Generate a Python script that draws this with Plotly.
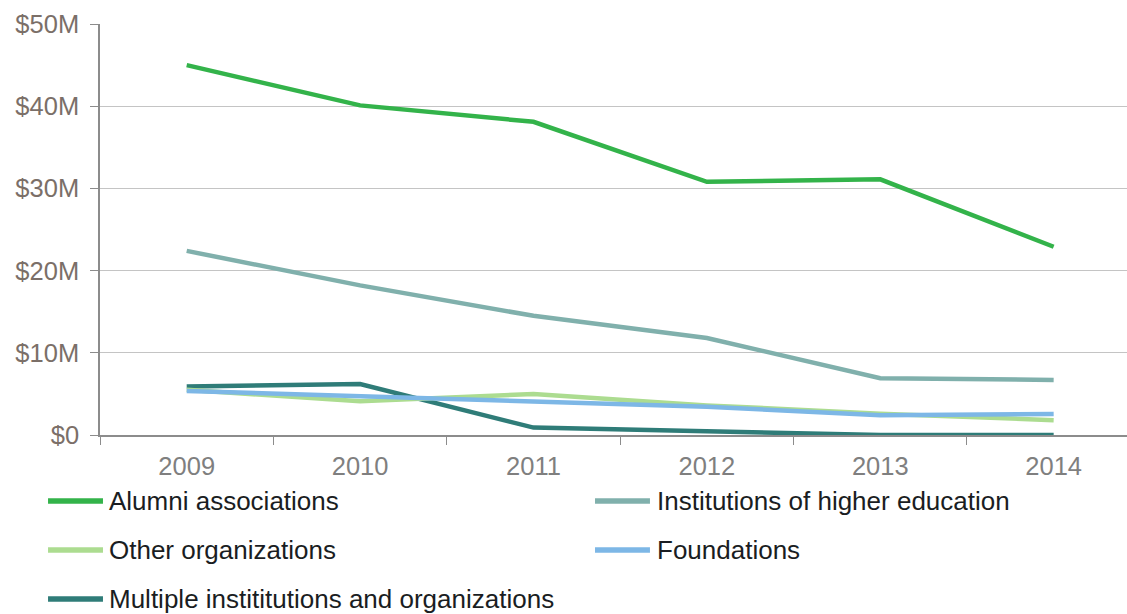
import plotly.graph_objects as go

years = ["2009", "2010", "2011", "2012", "2013", "2014"]
series_names = [
    "Alumni associations",
    "Institutions of higher education",
    "Other organizations",
    "Foundations",
    "Multiple instititutions and organizations",
]
alumni = [45.0, 40.1, 38.1, 30.8, 31.1, 22.9]
institutions = [22.4, 18.2, 14.5, 11.8, 6.9, 6.7]
other_orgs = [5.5, 4.1, 5.0, 3.6, 2.6, 1.8]
foundations = [5.35, 4.7, 4.1, 3.45, 2.4, 2.55]
multiple = [5.9, 6.2, 0.9, 0.5, 0.0, 0.0]
y_tickvals = [0, 10, 20, 30, 40, 50]
y_ticktext = ["$0", "$10M", "$20M", "$30M", "$40M", "$50M"]

colors = ["#33b34a", "#80b0ac", "#acdc90", "#7db7e6", "#2f7c78"]
values = [alumni, institutions, other_orgs, foundations, multiple]

fig = go.Figure()
draw_order = [4, 2, 3, 1, 0]
for i in draw_order:
    fig.add_trace(go.Scatter(
        x=years, y=values[i], name=series_names[i], mode="lines",
        line=dict(color=colors[i], width=4.5),
        cliponaxis=False, showlegend=False,
    ))

# manual legend: 2 columns x 3 rows
row_y = [-0.1606, -0.2798, -0.399]
col_x = [(-0.0506, 0.0029, 0.0068), (0.482, 0.5355, 0.5404)]
for idx, name in enumerate(series_names):
    r, c = divmod(idx, 2)
    x0, x1, xt = col_x[c]
    fig.add_shape(type="line", xref="paper", yref="paper",
                  x0=x0, x1=x1, y0=row_y[r], y1=row_y[r],
                  line=dict(color=colors[idx], width=5.5))
    fig.add_annotation(xref="paper", yref="paper", x=xt, y=row_y[r],
                       text=name, showarrow=False, xanchor="left", yanchor="middle",
                       font=dict(size=26, color="#1a1d22",
                                 family="Liberation Sans, Arial, sans-serif"))

fam = "Liberation Sans, Arial, sans-serif"
fig.update_layout(
    width=1127, height=614,
    margin=dict(l=100, r=0, t=24, b=179),
    plot_bgcolor="white", paper_bgcolor="white",
    xaxis=dict(
        type="category", range=[-0.5, 5.423],
        showline=True, linecolor="#8c8c8c", linewidth=1.5,
        ticks="outside", tickson="boundaries", ticklen=8, tickcolor="#8c8c8c",
        showgrid=False, tickfont=dict(size=25.5, color="#7f7f7f", family=fam),
        zeroline=False, ticklabelstandoff=8,
    ),
    yaxis=dict(
        range=[0, 50], tickvals=y_tickvals, ticktext=y_ticktext,
        showline=True, linecolor="#8c8c8c", linewidth=1.5,
        ticks="outside", ticklen=8, tickcolor="#8c8c8c",
        showgrid=True, gridcolor="#c4c4c4", gridwidth=1,
        tickfont=dict(size=25.5, color="#7b6f68", family=fam),
        zeroline=False, ticklabelstandoff=6,
    ),
)
fig.write_html("out.html")
